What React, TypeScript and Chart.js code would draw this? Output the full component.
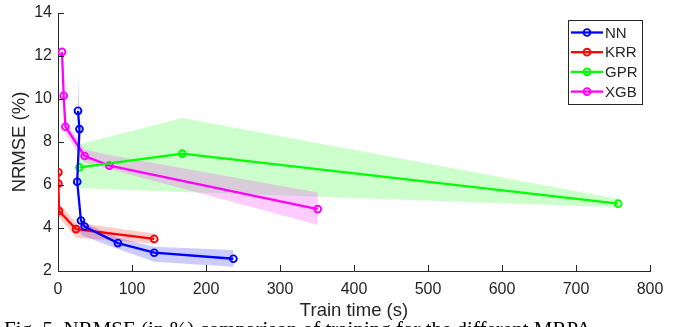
import React, { useEffect, useRef } from "react";
import { Chart, registerables } from "chart.js";

Chart.register(...registerables);

// ---- data ----
const xTickValues = [0, 100, 200, 300, 400, 500, 600, 700, 800];
const yTickValues = [2, 4, 6, 8, 10, 12, 14];

const seriesNames = ["NN", "KRR", "GPR", "XGB"];
const seriesColors = ["#0000ff", "#ff0000", "#00ff00", "#ff00ff"];
const bandColors = [
  "rgba(0,0,255,0.2)",
  "rgba(255,0,0,0.2)",
  "rgba(0,255,0,0.2)",
  "rgba(255,0,255,0.2)",
];

const nnTime = [27, 29, 26, 31, 36, 81, 130, 237];
const nnNrmse = [9.45, 8.6, 6.15, 4.35, 4.07, 3.3, 2.85, 2.57];
const nnUpper = [11.2, 9.2, 6.45, 4.45, 4.25, 3.55, 3.13, 2.98];
const nnLower = [8.0, 8.0, 5.85, 3.7, 3.6, 3.02, 2.43, 2.2];

const krrTime = [0.5, 0.5, 1.4, 24.4, 130];
const krrNrmse = [6.59, 6.06, 4.79, 3.95, 3.49];
const krrUpper = [6.7, 6.2, 5.15, 4.25, 3.75];
const krrLower = [6.45, 5.9, 4.5, 3.55, 3.28];

const gprTime = [29, 168, 757];
const gprNrmse = [6.82, 7.46, 5.13];
const gprUpper = [7.9, 9.12, 5.35];
const gprLower = [5.85, 5.68, 4.97];

const xgbTime = [5.4, 7.7, 10, 36, 69.4, 351];
const xgbNrmse = [12.19, 10.15, 8.71, 7.35, 6.9, 4.88];
const xgbUpper = [12.7, 10.4, 9.0, 7.65, 7.4, 5.65];
const xgbLower = [11.7, 9.9, 8.4, 7.05, 6.75, 4.15];

const xLabel = "Train time (s)";
const yLabel = "NRMSE (%)";
const caption =
  "Fig. 5. NRMSE (in %) comparison of training for the different MRPA";

const allTimes = [nnTime, krrTime, gprTime, xgbTime];
const allValues = [nnNrmse, krrNrmse, gprNrmse, xgbNrmse];
const allUpper = [nnUpper, krrUpper, gprUpper, xgbUpper];
const allLower = [nnLower, krrLower, gprLower, xgbLower];

const AXIS_COLOR = "#262626";
const FONT = "'Liberation Sans', Arial, Helvetica, sans-serif";

const bandPlugin = {
  id: "bands",
  beforeDatasetsDraw(chart: any) {
    const { ctx, chartArea, scales } = chart;
    const xs = scales.x;
    const ys = scales.y;
    ctx.save();
    ctx.beginPath();
    ctx.rect(chartArea.left, chartArea.top, chartArea.right - chartArea.left, chartArea.bottom - chartArea.top);
    ctx.clip();
    for (let s = 0; s < allTimes.length; s++) {
      const t = allTimes[s];
      const up = allUpper[s];
      const lo = allLower[s];
      ctx.beginPath();
      for (let i = 0; i < t.length; i++) {
        const px = xs.getPixelForValue(t[i]);
        const py = ys.getPixelForValue(up[i]);
        if (i === 0) ctx.moveTo(px, py);
        else ctx.lineTo(px, py);
      }
      for (let i = t.length - 1; i >= 0; i--) {
        ctx.lineTo(xs.getPixelForValue(t[i]), ys.getPixelForValue(lo[i]));
      }
      ctx.closePath();
      ctx.fillStyle = bandColors[s];
      ctx.fill("nonzero");
    }
    ctx.restore();
  },
};

const tickPlugin = {
  id: "innerTicks",
  afterDraw(chart: any) {
    const { ctx, chartArea, scales } = chart;
    ctx.save();
    ctx.strokeStyle = AXIS_COLOR;
    ctx.lineWidth = 1;
    ctx.beginPath();
    for (const v of xTickValues) {
      const px = Math.round(scales.x.getPixelForValue(v)) + 0.5;
      ctx.moveTo(px, chartArea.bottom);
      ctx.lineTo(px, chartArea.bottom - 6);
    }
    for (const v of yTickValues) {
      const py = Math.round(scales.y.getPixelForValue(v)) + 0.5;
      ctx.moveTo(chartArea.left, py);
      ctx.lineTo(chartArea.left + 6, py);
    }
    ctx.stroke();
    ctx.restore();
  },
};

const legendPlugin = {
  id: "matlabLegend",
  afterDraw(chart: any) {
    const { ctx, chartArea } = chart;
    const boxRight = chartArea.right - 8;
    const boxW = 74;
    const boxH = 84;
    const boxLeft = boxRight - boxW;
    const boxTop = chartArea.top + 7;
    ctx.save();
    ctx.fillStyle = "#ffffff";
    ctx.fillRect(boxLeft, boxTop, boxW, boxH);
    ctx.strokeStyle = AXIS_COLOR;
    ctx.lineWidth = 1;
    ctx.strokeRect(Math.round(boxLeft) + 0.5, Math.round(boxTop) + 0.5, boxW, boxH);
    ctx.font = `15px ${FONT}`;
    ctx.textBaseline = "middle";
    ctx.textAlign = "left";
    for (let i = 0; i < seriesNames.length; i++) {
      const y = boxTop + 12.5 + i * 19.7;
      const x0 = boxLeft + 3;
      const x1 = boxLeft + 35;
      ctx.strokeStyle = seriesColors[i];
      ctx.lineWidth = 2.3;
      ctx.beginPath();
      ctx.moveTo(x0, y);
      ctx.lineTo(x1, y);
      ctx.stroke();
      ctx.beginPath();
      ctx.arc((x0 + x1) / 2, y, 3.4, 0, Math.PI * 2);
      ctx.lineWidth = 1.9;
      ctx.stroke();
      ctx.fillStyle = AXIS_COLOR;
      ctx.fillText(seriesNames[i], x1 + 2, y + 1);
    }
    ctx.restore();
  },
};

export default function App() {
  const canvasRef = useRef<HTMLCanvasElement | null>(null);

  useEffect(() => {
    const canvas = canvasRef.current;
    if (!canvas) return;
    const datasets = seriesNames.map((name, s) => ({
      label: name,
      data: allTimes[s].map((t, i) => ({ x: t, y: allValues[s][i] })),
      showLine: true,
      borderColor: seriesColors[s],
      backgroundColor: "rgba(0,0,0,0)",
      borderWidth: 2.3,
      pointRadius: 3.4,
      pointBorderWidth: 1.9,
      pointBorderColor: seriesColors[s],
      pointBackgroundColor: "rgba(0,0,0,0)",
      fill: false,
      tension: 0,
    }));

    const chart = new Chart(canvas, {
      type: "scatter",
      data: { datasets },
      plugins: [bandPlugin, tickPlugin, legendPlugin],
      options: {
        animation: false,
        responsive: false,
        devicePixelRatio: 1,
        layout: { padding: { left: 0, right: 28, top: 13, bottom: 0 } },
        plugins: {
          legend: { display: false },
          tooltip: { enabled: false },
        },
        scales: {
          x: {
            type: "linear",
            min: 0,
            max: 800,
            afterBuildTicks: (scale: any) => {
              scale.ticks = xTickValues.map((v) => ({ value: v }));
            },
            afterFit: (scale: any) => {
              scale.height = 56;
            },
            grid: { display: true, drawOnChartArea: false, drawTicks: false },
            border: { display: true, color: AXIS_COLOR, width: 1 },
            ticks: {
              color: AXIS_COLOR,
              font: { family: FONT, size: 16 },
              padding: 9,
              maxRotation: 0,
            },
            title: {
              display: true,
              text: xLabel,
              color: AXIS_COLOR,
              font: { family: FONT, size: 18.5 },
              padding: { top: 0, bottom: 5 },
            },
          },
          y: {
            type: "linear",
            min: 2,
            max: 14,
            afterBuildTicks: (scale: any) => {
              scale.ticks = yTickValues.map((v) => ({ value: v }));
            },
            afterFit: (scale: any) => {
              scale.width = 58;
              scale.paddingTop = 0;
              scale.paddingBottom = 0;
            },
            grid: { display: true, drawOnChartArea: false, drawTicks: false },
            border: { display: true, color: AXIS_COLOR, width: 1 },
            ticks: {
              color: AXIS_COLOR,
              font: { family: FONT, size: 16 },
              padding: 6,
            },
            title: {
              display: true,
              text: yLabel,
              color: AXIS_COLOR,
              font: { family: FONT, size: 18.5 },
              padding: { top: 9, bottom: 0 },
            },
          },
        },
      } as any,
    });
    return () => chart.destroy();
  }, []);

  return (
    <div
      style={{
        position: "fixed",
        left: 0,
        top: 0,
        width: 678,
        height: 327,
        overflow: "hidden",
        background: "#ffffff",
      }}
    >
      <canvas ref={canvasRef} width={678} height={327} style={{ display: "block" }} />
      <div
        style={{
          position: "absolute",
          left: 4,
          top: 319,
          fontFamily: "'Liberation Serif', 'Times New Roman', serif",
          fontSize: 21,
          lineHeight: "21px",
          whiteSpace: "nowrap",
          color: "#000000",
        }}
      >
        {caption}
      </div>
    </div>
  );
}
